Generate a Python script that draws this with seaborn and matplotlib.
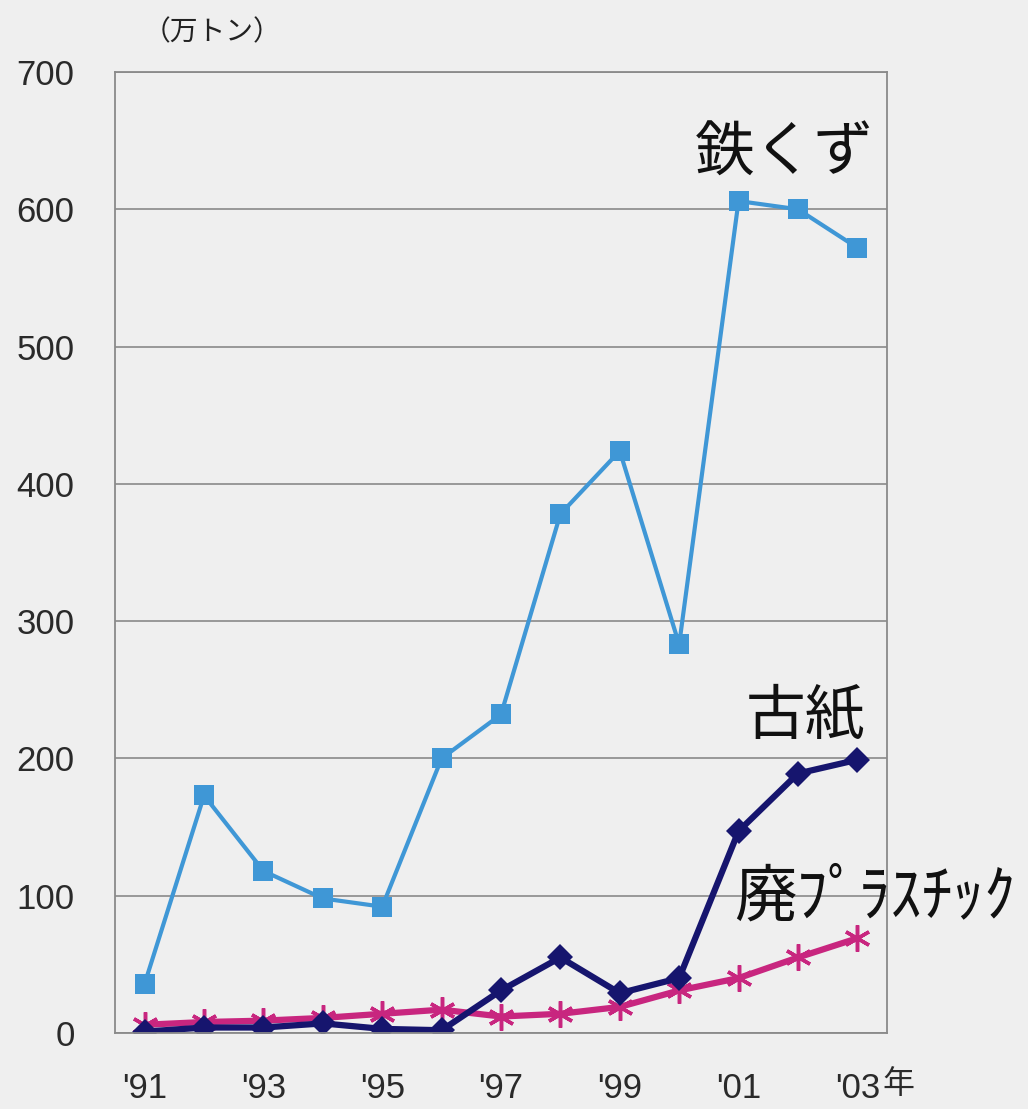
import pandas as pd
import numpy as np

import matplotlib
matplotlib.use('Agg')
import matplotlib.pyplot as plt
from matplotlib.ticker import FixedLocator, MultipleLocator
import seaborn as sns


anios = ["'91", "'92", "'93", "'94", "'95", "'96", "'97",
         "'98", "'99", "'00", "'01", "'02", "'03"]
etiquetas_x = ["'91", "", "'93", "", "'95", "", "'97",
               "", "'99", "", "'01", "", "'03"]

hierro = [36, 173, 118, 98, 92, 200, 232, 378, 424, 283, 606, 600, 572]
papel = [1, 4, 4, 7, 3, 2, 31, 55, 29, 40, 147, 189, 199]
plastico = [6, 8, 9, 11, 14, 17, 12, 14, 19, 31, 40, 55, 69]

series = {'鉄くず': hierro, '古紙': papel, '廃プラスチック': plastico}
colores = {'鉄くず': '#3f97d6', '古紙': '#16156e', '廃プラスチック': '#c8267f'}

df = pd.DataFrame({'x': list(range(len(anios))) * 3,
                   'valor': hierro + papel + plastico,
                   'serie': [s for s in series for _ in anios]})

sns.set_style('white')
plt.rcParams['font.family'] = ['Liberation Sans', 'Noto Sans CJK JP']
fondo = '#efefef'

fig = plt.figure(figsize=(10.28, 11.09), dpi=100, facecolor=fondo)
ax = fig.add_axes([115 / 1028, 76 / 1109, 772 / 1028, 961 / 1109])
ax.set_facecolor(fondo)

estilos = {
    '鉄くず': dict(marker='s', markersize=14, linewidth=3, markeredgewidth=0),
    '古紙': dict(marker='D', markersize=13.5, linewidth=4.5, markeredgewidth=0),
    '廃プラスチック': dict(marker=(6, 2, 0), markersize=19, linewidth=4.5,
                     markeredgewidth=2.5),
}

for nombre in ['鉄くず', '廃プラスチック', '古紙']:
    datos = df[df['serie'] == nombre]
    sns.lineplot(data=datos, x='x', y='valor', ax=ax, color=colores[nombre],
                 markeredgecolor=colores[nombre], **estilos[nombre])

ax.set_xlim(-0.5, len(anios) - 0.5)
ax.set_ylim(0, 700)
ax.yaxis.set_major_locator(MultipleLocator(100))
ax.grid(axis='y', color='#8a8a8a', linewidth=1.2)
ax.set_axisbelow(True)

ax.set_xticks(range(len(anios)))
ax.set_xticklabels(etiquetas_x)
ax.xaxis.set_minor_locator(FixedLocator(np.arange(0.5, len(anios) - 1, 1)))
ax.tick_params(axis='x', which='major', length=0, pad=28, labelsize=25,
               labelcolor='#2a2a2a')
ax.tick_params(axis='x', which='minor', direction='in', length=9,
               width=1.2, color='#777777')
ax.tick_params(axis='y', length=0, pad=29, labelsize=25, labelcolor='#2a2a2a')
ax.set_xlabel('')
ax.set_ylabel('')

for lado in ['left', 'right', 'top', 'bottom']:
    ax.spines[lado].set_color('#8a8a8a')
    ax.spines[lado].set_linewidth(1.3)

ax.annotate('年', xy=(12, 0), xycoords=('data', 'axes fraction'),
            xytext=(18, -37), textcoords='offset points', fontsize=23,
            color='#2a2a2a', family='Noto Sans CJK JP', va='center', ha='left')

fig.text(143 / 1028, 1 - 32 / 1109, '（万トン）', fontsize=20,
         family='Noto Sans CJK JP', color='#222222', va='center', ha='left')

ax.text(10.78, 640, '鉄くず', fontsize=43, family='Noto Sans CJK JP',
        color='#111111', va='center', ha='center')
ax.text(11.12, 230, '古紙', fontsize=43, family='Noto Sans CJK JP',
        color='#111111', va='center', ha='center')
ax.text(9.92, 99, '廃ﾌﾟﾗｽﾁｯｸ', fontsize=45, family='Noto Sans CJK JP',
        color='#111111', va='center', ha='left', clip_on=False)

fig.savefig('out.png', dpi=100, facecolor=fondo)
